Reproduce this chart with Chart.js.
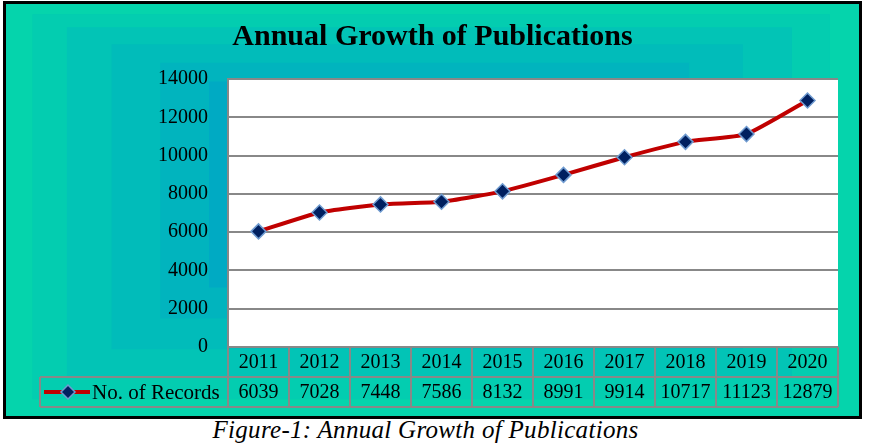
<!DOCTYPE html>
<html>
<head>
<meta charset="utf-8">
<script src="https://cdn.jsdelivr.net/npm/chart.js@4"></script>
<style>
  body { margin: 0; background: #fff; width: 872px; height: 446px; position: relative; overflow: hidden; }
  #frame { position: absolute; left: 3px; top: 1px; width: 853px; height: 412px; border: 3px solid #000; }
  #caption { position: absolute; left: 0; top: 416px; width: 851px; text-align: center;
             font-family: "Liberation Serif", serif; font-style: italic; font-size: 25px;
             letter-spacing: 0.3px; color: #000; }
</style>
</head>
<body>
<div id="frame"><canvas id="chart" width="853" height="412"></canvas></div>
<div id="caption">Figure-1: Annual Growth of Publications</div>

<script>
// data
const years = ["2011", "2012", "2013", "2014", "2015", "2016", "2017", "2018", "2019", "2020"];
const records = [6039, 7028, 7448, 7586, 8132, 8991, 9914, 10717, 11123, 12879];
const seriesLabel = "No. of Records";
const chartTitle = "Annual Growth of Publications";

const FONT = "Liberation Serif";

// rectangular "from center" gradient like the Excel fill
const bgPlugin = {
  id: "bgFill",
  beforeDraw(chart) {
    const ctx = chart.ctx;
    const w = chart.width, h = chart.height;
    const cx = 406, cy = 155;
    const bands = [
      [0, "rgb(5,212,172)"], [0.065, "rgb(3,205,176)"], [0.15, "rgb(2,196,182)"],
      [0.26, "rgb(1,188,186)"], [0.38, "rgb(1,180,190)"], [0.5, "rgb(0,170,195)"],
      [0.62, "rgb(0,164,199)"], [0.75, "rgb(0,158,203)"]
    ];
    ctx.save();
    bands.forEach(([t, col]) => {
      const l = t * cx, r = w - t * (w - cx);
      const tp = t * cy, b = h - t * (h - cy);
      ctx.fillStyle = col;
      ctx.fillRect(l, tp, r - l, b - tp);
    });
    const a = chart.chartArea;
    ctx.fillStyle = "#fff";
    ctx.fillRect(a.left, a.top, a.right - a.left, a.bottom - a.top);
    ctx.restore();
  }
};

// data table under the plot
const tablePlugin = {
  id: "dataTable",
  afterDraw(chart) {
    const ctx = chart.ctx;
    const a = chart.chartArea;
    const x = chart.scales.x;
    const colW = (a.right - a.left) / years.length;
    const rowH = 30;
    const top = a.bottom, mid = a.bottom + rowH, bot = a.bottom + 2 * rowH;
    const legLeft = 34;

    ctx.save();
    ctx.strokeStyle = "#888";
    ctx.lineWidth = 2;
    ctx.beginPath();
    ctx.moveTo(a.left, top); ctx.lineTo(a.right, top);
    ctx.moveTo(legLeft, mid); ctx.lineTo(a.right, mid);
    ctx.moveTo(legLeft, bot); ctx.lineTo(a.right, bot);
    ctx.moveTo(legLeft, mid); ctx.lineTo(legLeft, bot);
    for (let i = 0; i <= years.length; i++) {
      const xx = a.left + i * colW;
      ctx.moveTo(xx, top); ctx.lineTo(xx, bot);
    }
    ctx.stroke();

    ctx.fillStyle = "#000";
    ctx.font = "20px '" + FONT + "'";
    ctx.textAlign = "center";
    ctx.textBaseline = "middle";
    years.forEach((yr, i) => {
      const cx = x.getPixelForValue(i);
      ctx.fillText(yr, cx, top + rowH / 2 + 1);
      ctx.fillText(String(records[i]), cx, mid + rowH / 2 + 1);
    });

    // legend key
    const ky = mid + rowH / 2;
    ctx.strokeStyle = "#C00000";
    ctx.lineWidth = 4;
    ctx.beginPath();
    ctx.moveTo(38, ky); ctx.lineTo(84, ky);
    ctx.stroke();
    ctx.fillStyle = "#002060";
    ctx.strokeStyle = "#6F9BD0";
    ctx.lineWidth = 1.5;
    ctx.beginPath();
    ctx.moveTo(62, ky - 7); ctx.lineTo(69, ky); ctx.lineTo(62, ky + 7); ctx.lineTo(55, ky);
    ctx.closePath();
    ctx.fill(); ctx.stroke();
    ctx.fillStyle = "#000";
    ctx.textAlign = "left";
    ctx.font = "21px '" + FONT + "'";
    ctx.fillText(seriesLabel, 86, ky + 1);
    ctx.restore();
  }
};

new Chart(document.getElementById("chart"), {
  type: "line",
  data: {
    labels: years,
    datasets: [{
      label: seriesLabel,
      data: records,
      borderColor: "#C00000",
      borderWidth: 4,
      pointStyle: "rectRot",
      pointRadius: 7.5,
      pointHoverRadius: 7.5,
      pointBackgroundColor: "#002060",
      pointBorderColor: "#6F9BD0",
      pointBorderWidth: 1.5,
      tension: 0.15
    }]
  },
  options: {
    responsive: false,
    animation: false,
    layout: { padding: { top: 0, right: 21, bottom: 69, left: 21 } },
    plugins: {
      legend: { display: false },
      tooltip: { enabled: false },
      title: {
        display: true,
        text: chartTitle,
        color: "#000",
        font: { family: FONT, size: 30, weight: "bold", lineHeight: 1.2 },
        padding: { top: 15, bottom: 24 }
      }
    },
    scales: {
      x: {
        display: false,
        offset: true
      },
      y: {
        min: 0,
        max: 14000,
        ticks: {
          stepSize: 2000,
          color: "#000",
          font: { family: FONT, size: 20 },
          padding: 20,
          callback: (v) => String(v)
        },
        grid: { color: "#888", lineWidth: 2, drawTicks: false },
        border: { color: "#888", width: 2 },
        afterFit(scale) { scale.width = 201; }
      }
    }
  },
  plugins: [bgPlugin, tablePlugin]
});
</script>
</body>
</html>
